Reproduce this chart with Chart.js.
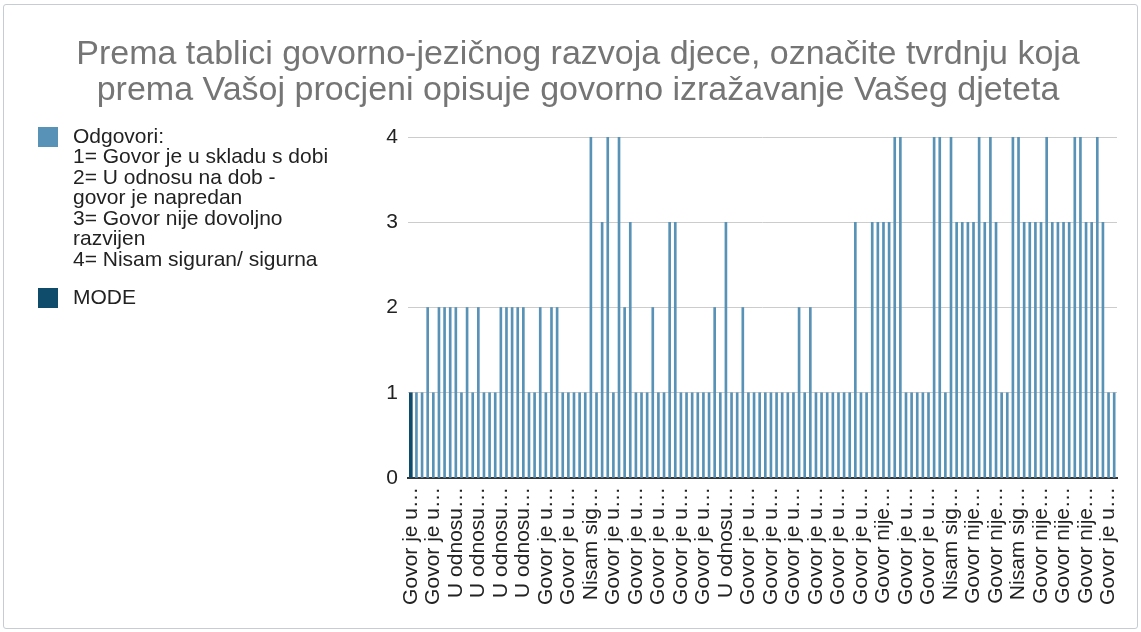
<!DOCTYPE html>
<html>
<head>
<meta charset="utf-8">
<script src="https://cdn.jsdelivr.net/npm/chart.js@4"></script>
<style>
  html, body { margin: 0; padding: 0; background: #fff; }
  #wrap {
    position: absolute; left: 3px; top: 4px;
    width: 1135px; height: 625px;
    box-sizing: border-box;
    border: 1px solid #c5ccd4; border-radius: 3px;
  }
</style>
</head>
<body>
<div id="wrap"><canvas id="chart"></canvas></div>
<script>
// answer codes per respondent (index 0 holds the MODE bar)
const odgovori = [
  null, 1, 1, 2, 1, 2, 2, 2, 2, 1,
  2, 1, 2, 1, 1, 1, 2, 2, 2, 2,
  2, 1, 1, 2, 1, 2, 2, 1, 1, 1,
  1, 1, 4, 1, 3, 4, 1, 4, 2, 3,
  1, 1, 1, 2, 1, 1, 3, 3, 1, 1,
  1, 1, 1, 1, 2, 1, 3, 1, 1, 2,
  1, 1, 1, 1, 1, 1, 1, 1, 1, 2,
  1, 2, 1, 1, 1, 1, 1, 1, 1, 3,
  1, 1, 3, 3, 3, 3, 4, 4, 1, 1,
  1, 1, 1, 4, 4, 1, 4, 3, 3, 3,
  3, 4, 3, 4, 3, 1, 1, 4, 4, 3,
  3, 3, 3, 4, 3, 3, 3, 3, 4, 4,
  3, 3, 4, 3, 1, 1
];
const mode = odgovori.map((v, i) => (i === 0 ? 1 : null));

// every 4th category label is shown on the axis
const tickLabels = [
  "Govor je u…", "Govor je u…", "U odnosu…", "U odnosu…",
  "U odnosu…", "U odnosu…", "Govor je u…", "Govor je u…",
  "Nisam sig…", "Govor je u…", "Govor je u…", "Govor je u…",
  "Govor je u…", "Govor je u…", "U odnosu…", "Govor je u…",
  "Govor je u…", "Govor je u…", "Govor je u…", "Govor je u…",
  "Govor je u…", "Govor nije…", "Govor je u…", "Govor je u…",
  "Nisam sig…", "Govor nije…", "Govor nije…", "Nisam sig…",
  "Govor nije…", "Govor nije…", "Govor nije…", "Govor je u…"
];
const categories = odgovori.map((v, i) => (i % 4 === 0 ? tickLabels[i / 4] : ""));

const yTicks = [0, 1, 2, 3, 4];

const titleLines = [
  "Prema tablici govorno-jezičnog razvoja djece, označite tvrdnju koja",
  "prema Vašoj procjeni opisuje govorno izražavanje Vašeg djeteta"
];
const odgovoriLines = [
  "Odgovori:",
  "1= Govor je u skladu s dobi",
  "2= U odnosu na dob -",
  "govor je napredan",
  "3= Govor nije dovoljno",
  "razvijen",
  "4= Nisam siguran/ sigurna"
];
const modeLines = ["MODE"];

const FONT = "'Liberation Sans', Arial, sans-serif";
const COLORS = { bar: "#5892b6", mode: "#0f4c6c", grid: "#cccccc", axis: "#333333", text: "#222222", title: "#757575" };

Chart.defaults.font.family = FONT;
Chart.defaults.color = COLORS.text;

// legend drawn by hand: multi-line entries stacked in the left margin
const sideLegend = {
  id: "sideLegend",
  afterDraw(chart) {
    const { ctx } = chart;
    const entries = [
      { lines: odgovoriLines, color: chart.data.datasets[0].backgroundColor, top: 122 },
      { lines: modeLines, color: chart.data.datasets[1].backgroundColor, top: 283 }
    ];
    ctx.save();
    ctx.font = "21px " + FONT;
    ctx.textBaseline = "middle";
    ctx.textAlign = "left";
    entries.forEach((e) => {
      ctx.fillStyle = e.color;
      ctx.fillRect(34, e.top, 20, 20);
      ctx.fillStyle = COLORS.text;
      e.lines.forEach((line, k) => ctx.fillText(line, 69, e.top + 10 + k * 20.5));
    });
    ctx.restore();
  }
};

new Chart(document.getElementById("chart"), {
  type: "bar",
  data: {
    labels: categories,
    datasets: [
      { label: "Odgovori", data: odgovori, backgroundColor: COLORS.bar, borderWidth: 0, barThickness: 2, grouped: false },
      { label: "MODE", data: mode, backgroundColor: COLORS.mode, borderWidth: 0, barThickness: 3, grouped: false }
    ]
  },
  plugins: [sideLegend],
  options: {
    responsive: true,
    maintainAspectRatio: false,
    animation: false,
    layout: { padding: { left: 17, right: 2, top: 0, bottom: 0 } },
    plugins: {
      tooltip: { enabled: false },
      legend: { display: false },
      title: {
        display: true,
        text: titleLines,
        color: COLORS.title,
        font: { size: 34, weight: "normal", lineHeight: 36 / 34 },
        padding: { top: 32, bottom: 28 }
      }
    },
    scales: {
      x: {
        grid: { display: false, drawTicks: false },
        border: { display: true, color: COLORS.axis, width: 2 },
        ticks: {
          autoSkip: false,
          minRotation: 90,
          maxRotation: 90,
          padding: 9,
          color: COLORS.text,
          font: { size: 21 }
        },
        afterFit(s) {
          s.height = 150;
          s.paddingLeft = 0;
          s.paddingRight = 0;
        }
      },
      y: {
        min: 0,
        max: 4,
        afterBuildTicks(s) { s.ticks = yTicks.map((v) => ({ value: v })); },
        grid: {
          drawTicks: false,
          color: (c) => (c.tick && c.tick.value === 0 ? "rgba(0,0,0,0)" : COLORS.grid)
        },
        border: { display: false },
        ticks: { padding: 10, color: COLORS.text, font: { size: 21 } },
        afterFit(s) { s.width = 387; }
      },
      yRight: {
        axis: "y",
        position: "right",
        grid: { display: false, drawTicks: false },
        border: { display: false },
        ticks: { display: false },
        afterFit(s) { s.width = 18; }
      }
    }
  }
});
</script>
</body>
</html>
